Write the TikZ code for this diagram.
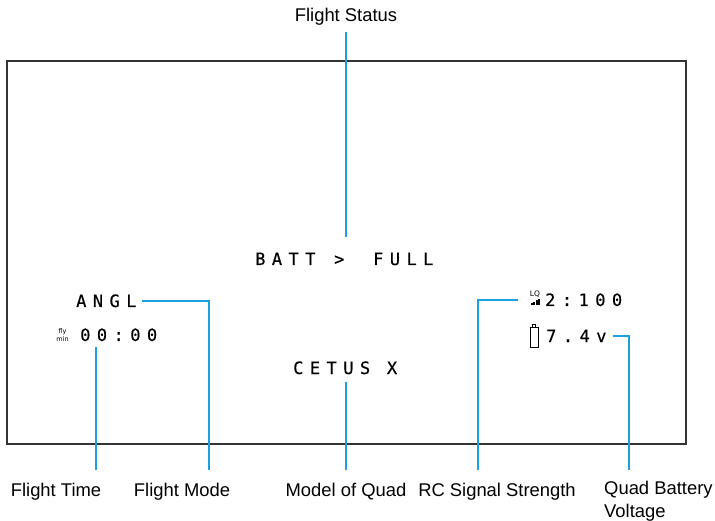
\documentclass[tikz,border=0pt]{standalone}
\usepackage{fontspec}
\setmainfont{Liberation Sans}
\newfontfamily\osdfont[LetterSpace=38,FakeBold=0.4]{DejaVu Sans Mono}
\newfontfamily\tinyfont{DejaVu Sans}
\definecolor{callout}{RGB}{27,161,226}
\begin{document}
\begin{tikzpicture}[x=1pt,y=-1pt,
	osd/.style={font=\fontsize{17}{17}\osdfont,inner sep=0pt},
	lbl/.style={font=\fontsize{18.4}{23}\selectfont,inner sep=0pt},
	lead/.style={callout,line width=1.8pt}]
	\useasboundingbox (0,0) rectangle (715,521);
	\draw[line width=1.1pt,black!80] (7,61) rectangle (686,444);
	% screen texts
	\node[osd,anchor=base west] (batt) at (255,265) {BATT\hspace{2pt} >\hspace{12pt} FULL};
	\node[osd,anchor=base west] (mode) at (76,307) {ANGL};
	\node[osd,anchor=base west] (time) at (80,341) {00:00};
	\node[inner sep=0pt,font=\fontsize{6.5}{5.5}\tinyfont,align=center] (flymin) at (62.5,335) {fly\\min};
	\node[osd,anchor=base west] (model) at (293,374) {CETUS X};
	\node[osd,anchor=base west] (lq) at (545,306) {2:100};
	\node[inner sep=0pt,font=\fontsize{7.5}{7.5}\tinyfont] (lqtag) at (535,294) {LQ};
	\foreach \i in {0,...,3}
		\fill (531+2.4*\i,305.5) rectangle (533+2.4*\i,303.5-1.5*\i);
	\node[osd,anchor=base west] (volt) at (546,342) {7.4v};
	\draw[line width=0.8pt] (530,327) rectangle (538,347);
	\draw[line width=0.8pt] (532.5,324.5) rectangle (535.5,327);
	% labels
	\node[lbl,anchor=base] (status) at (346,22) {Flight Status};
	\node[lbl,anchor=base] (ftime) at (56,496) {Flight Time};
	\node[lbl,anchor=base] (fmode) at (182,496) {Flight Mode};
	\node[lbl,anchor=base] (fmodel) at (346,496) {Model of Quad};
	\node[lbl,anchor=base] (rc) at (497,496) {RC Signal Strength};
	\node[lbl,anchor=north west,align=left] (qbv) at (604,481) {Quad Battery\\Voltage};
	% leaders
	\coordinate (t1) at (96,470);
	\coordinate (m1) at (209,470);
	\coordinate (q1) at (346,470);
	\coordinate (r1) at (478,470);
	\coordinate (v1) at (629,470);
	\draw[lead,shorten <=6pt,shorten >=15pt] (status) -- (batt.north -| status);
	\draw[lead] ([yshift=-6pt]time.south -| t1) -- (t1);
	\draw[lead] ([xshift=5pt]mode.east) -- (mode.east -| m1) -- (m1);
	\draw[lead] ([yshift=-8pt]model.south -| q1) -- (q1);
	\draw[lead] (r1) -- (r1 |- lq.west) -- ([xshift=-27pt]lq.west);
	\draw[lead] ([xshift=6pt]volt.east) -- (volt.east -| v1) -- (v1);
\end{tikzpicture}
\end{document}
